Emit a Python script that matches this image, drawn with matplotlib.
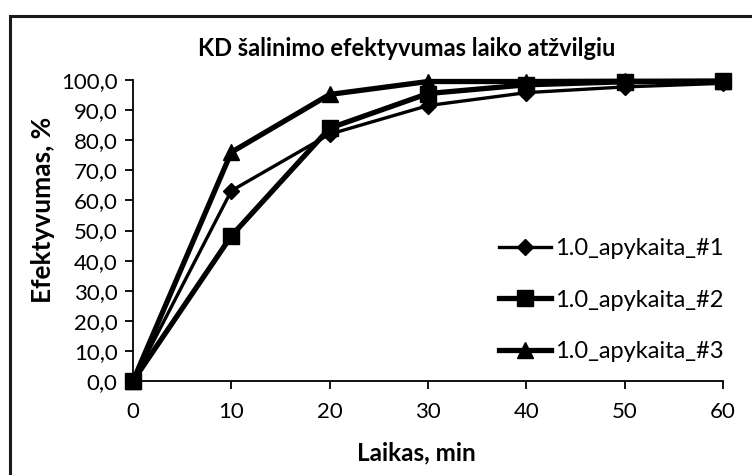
import matplotlib
matplotlib.use("Agg")
import matplotlib.pyplot as plt
from matplotlib.patches import Rectangle
from matplotlib.ticker import FuncFormatter

# Removal efficiency over time
time_min = [0, 10, 20, 30, 40, 50, 60]
series_1 = [0.0, 63.2, 82.0, 91.5, 95.8, 97.7, 98.9]
series_2 = [0.0, 48.2, 84.0, 95.5, 98.4, 99.4, 99.6]
series_3 = [0.0, 76.0, 95.2, 99.5, 99.5, 99.6, 99.6]
series_names = ["1.0_apykaita_#1", "1.0_apykaita_#2", "1.0_apykaita_#3"]
x_ticks = [0, 10, 20, 30, 40, 50, 60]
y_ticks = [0, 10, 20, 30, 40, 50, 60, 70, 80, 90, 100]

plt.rcParams["font.family"] = ["Lato", "DejaVu Sans"]

fig = plt.figure(figsize=(7.52, 4.75), dpi=100)
ax = fig.add_axes([133 / 752, 1 - 381 / 475, (723 - 133) / 752, (381 - 80) / 475])

# outer chart-area border (left and top edges fall inside the canvas)
fig.patches.append(Rectangle((9.5 / 752, -0.05), 1.1, 1 - 15.5 / 475 + 0.05,
                             transform=fig.transFigure, fill=False,
                             edgecolor="#1a1a1a", linewidth=2.2))

ax.plot(time_min, series_1, color="black", linewidth=2.4, marker="D",
        markersize=8, label=series_names[0], clip_on=False, zorder=3)
ax.plot(time_min, series_2, color="black", linewidth=3.8, marker="s",
        markersize=11, label=series_names[1], clip_on=False, zorder=4)
ax.plot(time_min, series_3, color="black", linewidth=3.8, marker="^",
        markersize=11, label=series_names[2], clip_on=False, zorder=5)

ax.set_xlim(0, 60)
ax.set_ylim(0, 100)
ax.set_xticks(x_ticks)
ax.set_yticks(y_ticks)
ax.yaxis.set_major_formatter(FuncFormatter(lambda v, p: f"{v:.1f}".replace(".", ",")))

for s in ["top", "right"]:
    ax.spines[s].set_visible(False)
for s in ["left", "bottom"]:
    ax.spines[s].set_linewidth(1.3)
ax.tick_params(axis="both", direction="out", length=6, width=1.3,
               labelsize=16, pad=5)
ax.tick_params(axis="x", pad=9)

ax.set_xlabel("Laikas, min", fontsize=17.5, fontweight="bold")
ax.xaxis.set_label_coords(0.48, -0.2)
ax.set_ylabel("Efektyvumas, %", fontsize=19, fontweight="bold")
ax.yaxis.set_label_coords(-0.133, 0.57)

fig.text(407 / 752, 1 - 49 / 475, "KD šalinimo efektyvumas laiko atžvilgiu",
         ha="center", va="center", fontsize=17, fontweight="bold")

ax.legend(loc="upper left", bbox_to_anchor=(0.605, 0.505), frameon=False,
          fontsize=17, handlelength=2.2, handletextpad=0.15,
          labelspacing=1.28, borderaxespad=0)

fig.savefig("out.png", dpi=100)
